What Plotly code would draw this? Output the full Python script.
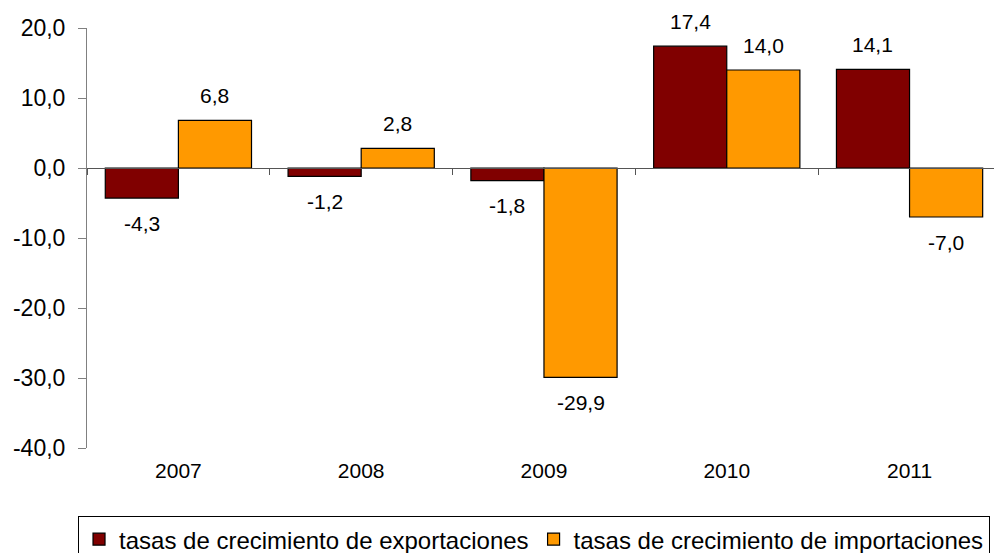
import plotly.graph_objects as go

years = ["2007", "2008", "2009", "2010", "2011"]
exportaciones = [-4.3, -1.2, -1.8, 17.4, 14.1]
importaciones = [6.8, 2.8, -29.9, 14.0, -7.0]
y_ticks = [-40, -30, -20, -10, 0, 10, 20]

name_exp = "tasas de crecimiento de exportaciones"
name_imp = "tasas de crecimiento de importaciones"

FONT = "Liberation Sans, Arial, sans-serif"

def fmt(v):
    return f"{v:.1f}".replace(".", ",")

xs = list(range(len(years)))

fig = go.Figure()
fig.add_trace(go.Bar(
    x=xs, y=exportaciones, name=name_exp,
    marker=dict(color="#800000", line=dict(color="#000000", width=1.2)),
))
fig.add_trace(go.Bar(
    x=xs, y=importaciones, name=name_imp,
    marker=dict(color="#FF9900", line=dict(color="#000000", width=1.2)),
))

annotations = []
for series, off in ((exportaciones, -0.2), (importaciones, 0.2)):
    for i, v in enumerate(series):
        annotations.append(dict(
            x=i + off, y=v, xref="x", yref="y", text=fmt(v),
            showarrow=False, yanchor="middle",
            yshift=25 if v >= 0 else -25,
            font=dict(family=FONT, size=21, color="#000000"),
        ))

fig.update_layout(
    width=994, height=553,
    margin=dict(l=87, r=0, t=28, b=105, autoexpand=False),
    paper_bgcolor="white", plot_bgcolor="white",
    barmode="group", bargap=0.2, bargroupgap=0,
    font=dict(family=FONT, size=21, color="#000000"),
    annotations=annotations,
    showlegend=True,
    legend=dict(
        orientation="h", x=-0.0099, xanchor="left", y=-0.162, yanchor="top",
        bordercolor="#000000", borderwidth=1, bgcolor="white",
        font=dict(family=FONT, size=24, color="#000000"),
        traceorder="normal",
    ),
    xaxis=dict(
        range=[-0.5, 4.462], tickmode="array", tickvals=xs, ticktext=years,
        showline=False, ticks="", showgrid=False, zeroline=False,
        tickfont=dict(family=FONT, size=21, color="#000000"),
        ticklabelstandoff=8,
    ),
    xaxis2=dict(
        overlaying="x", anchor="free", position=2 / 3, side="bottom",
        range=[-0.5, 4.462], tickmode="array",
        tickvals=[i - 0.5 for i in range(len(years) + 1)],
        showticklabels=False, ticks="outside", ticklen=6, tickcolor="#555555",
        showline=True, linecolor="#555555", linewidth=1,
        showgrid=False, zeroline=False,
    ),
    yaxis=dict(
        range=[-40, 20], tickmode="array", tickvals=y_ticks,
        ticktext=[fmt(t) for t in y_ticks],
        showline=True, linecolor="#808080", linewidth=1,
        ticks="outside", ticklen=8, tickcolor="#808080",
        showgrid=False, zeroline=False,
        tickfont=dict(family=FONT, size=23, color="#000000"),
        ticklabelstandoff=8,
    ),
)

# invisible trace to activate the zero-line axis
fig.add_trace(go.Scatter(x=[0], y=[0], xaxis="x2", mode="markers",
                         marker=dict(opacity=0), showlegend=False, hoverinfo="skip"))

fig.write_html(
    "out.html",
    config={"displayModeBar": False},
    post_script="document.body.style.margin='0';document.body.style.overflow='hidden';",
)
